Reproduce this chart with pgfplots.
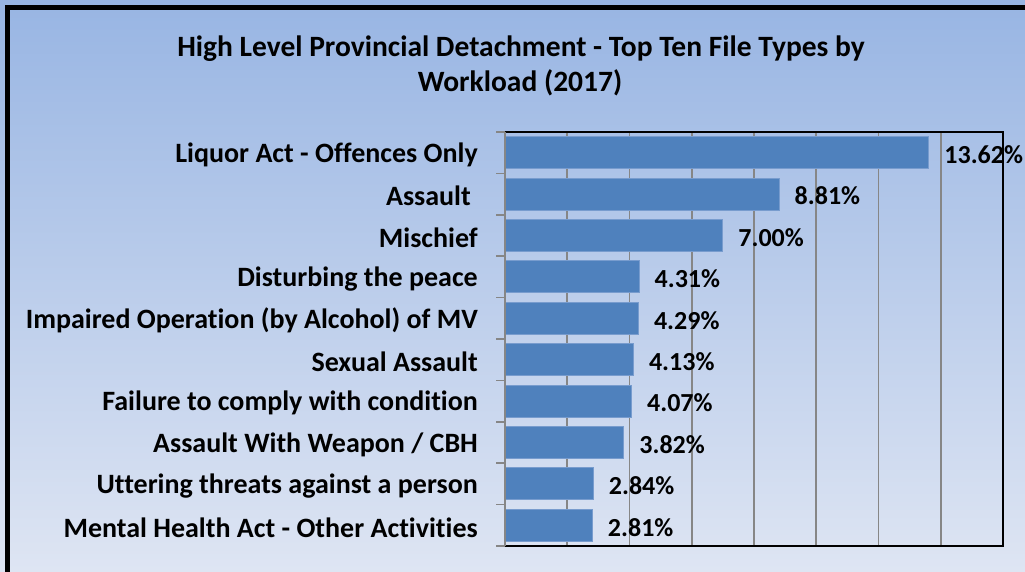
\documentclass[border=0pt]{standalone}
\usepackage{pgfplots}
\pgfplotsset{compat=1.18}
\usepackage{fontspec}
\setmainfont{Carlito}[RawFeature={-liga;-clig;-calt;-dlig}]
\definecolor{bgtop}{RGB}{152,181,227}
\definecolor{bgbot}{RGB}{222,229,243}
\definecolor{barblue}{RGB}{79,129,189}
\definecolor{baredge}{RGB}{120,156,206}
\definecolor{gridgray}{RGB}{134,134,134}
\begin{document}
\begin{tikzpicture}[x=1pt,y=1pt]
\useasboundingbox (0,0) rectangle (1025,571);
\shade[top color=bgtop, bottom color=bgbot] (0,0) rectangle (1025,571);
\draw[line width=5pt] (7.5,-10) -- (7.5,563.5) -- (1040,563.5);
\node[font=\fontsize{29.5}{34}\selectfont\bfseries, anchor=base] at (521,514) {High Level Provincial Detachment - Top Ten File Types by};
\node[font=\fontsize{29.5}{34}\selectfont\bfseries, anchor=base] at (520,479) {Workload (2017)};
\begin{axis}[
  at={(505pt,25pt)}, anchor=south west,
  width=498pt, height=414pt, scale only axis,
  xbar, xmin=0, xmax=16, ymin=-0.5, ymax=9.5, y dir=reverse,
  bar width=32pt,
  axis line style={draw=none},
  xtick={0,2,...,16}, xticklabels={},
  xmajorgrids, grid style={gridgray, line width=1.8pt},
  ytick={0,...,9},
  yticklabels={Liquor Act - Offences Only, Assault\kern7pt, Mischief, Disturbing the peace, Impaired Operation (by Alcohol) of MV, Sexual Assault, Failure to comply with condition, Assault With Weapon / CBH, Uttering threats against a person, Mental Health Act - Other Activities},
  minor ytick={-0.5,0.5,...,9.5},
  major tick length=0pt, minor tick length=9pt,
  tick align=outside, ytick pos=left, xtick pos=bottom,
  minor tick style={gridgray, line width=1.5pt},
  yticklabel style={font=\fontsize{28}{32}\selectfont\bfseries, anchor=east, inner sep=0pt, xshift=-27pt, yshift=-2pt},
  point meta=x,
  nodes near coords={\pgfmathprintnumber[fixed,zerofill,precision=2,assume math mode=true]{\pgfplotspointmeta}\%},
  nodes near coords style={font=\fontsize{26}{30}\selectfont\bfseries, anchor=west, inner sep=0pt, xshift=15pt, yshift=-2pt},
  clip=false,
]
\addplot[fill=barblue, draw=baredge, line width=1pt] coordinates {
(13.62,0) (8.81,1) (7.00,2) (4.31,3) (4.29,4) (4.13,5) (4.07,6) (3.82,7) (2.84,8) (2.81,9)};
\draw[black, line width=2pt] (axis cs:0,-0.5) -- (axis cs:16,-0.5) -- (axis cs:16,9.5) -- (axis cs:0,9.5);
\draw[gridgray, line width=2.5pt] (axis cs:0,-0.5) -- (axis cs:0,9.5);
\end{axis}
\end{tikzpicture}
\end{document}
